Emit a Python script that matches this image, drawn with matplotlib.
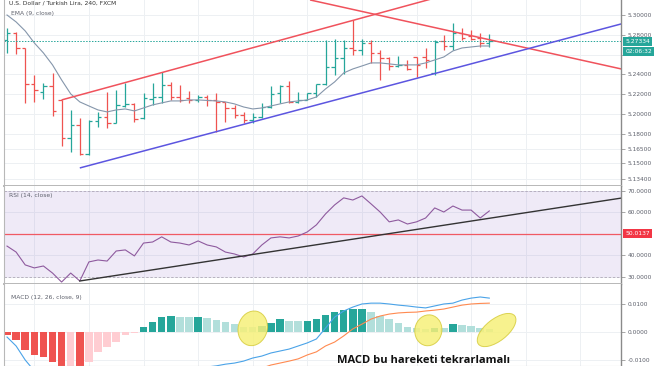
import numpy as np
import matplotlib
matplotlib.use("Agg")
import matplotlib.pyplot as plt
from matplotlib.patches import Ellipse
from matplotlib.transforms import ScaledTranslation

# ---- OHLC (USD/TRY, 4h) ----
opens = [5.2748, 5.2819, 5.2667, 5.2304, 5.2223, 5.2283, 5.2142, 5.1758, 5.1889, 5.1597,
         5.1930, 5.1970, 5.1910, 5.2081, 5.2102, 5.1960, 5.2152, 5.2172, 5.2294, 5.2172,
         5.2162, 5.2142, 5.2172, 5.2142, 5.2122, 5.2061, 5.1990, 5.1940, 5.1970, 5.2071,
         5.2213, 5.2283, 5.2122, 5.2142, 5.2213, 5.2304, 5.2475, 5.2566, 5.2667, 5.2647,
         5.2718, 5.2617, 5.2566, 5.2485, 5.2496, 5.2576, 5.2576, 5.2415, 5.2738, 5.2687,
         5.2819, 5.2788, 5.2768, 5.2718]
highs = [5.2869, 5.2829, 5.2667, 5.2395, 5.2314, 5.2415, 5.2142, 5.2041, 5.1960, 5.1940,
         5.2021, 5.2223, 5.2243, 5.2314, 5.2112, 5.2213, 5.2314, 5.2425, 5.2324, 5.2294,
         5.2233, 5.2193, 5.2193, 5.2213, 5.2122, 5.2092, 5.2021, 5.2011, 5.2112, 5.2283,
         5.2294, 5.2334, 5.2223, 5.2213, 5.2304, 5.2748, 5.2758, 5.2748, 5.2950, 5.2758,
         5.2748, 5.2647, 5.2576, 5.2586, 5.2546, 5.2576, 5.2667, 5.2748, 5.2798, 5.2920,
         5.2869, 5.2849, 5.2819, 5.2809]
lows = [5.2617, 5.2607, 5.2112, 5.2122, 5.2152, 5.1980, 5.1677, 5.1617, 5.1586, 5.1586,
        5.1869, 5.1859, 5.1910, 5.2071, 5.1920, 5.1950, 5.2092, 5.2112, 5.2142, 5.2122,
        5.2112, 5.2122, 5.2081, 5.1819, 5.1920, 5.1960, 5.1910, 5.1910, 5.1960, 5.2061,
        5.2112, 5.2112, 5.2112, 5.2142, 5.2172, 5.2294, 5.2395, 5.2405, 5.2597, 5.2597,
        5.2516, 5.2344, 5.2445, 5.2475, 5.2445, 5.2374, 5.2465, 5.2395, 5.2647, 5.2647,
        5.2748, 5.2748, 5.2677, 5.2677]
closes = [5.2819, 5.2667, 5.2304, 5.2243, 5.2283, 5.2031, 5.1758, 5.1889, 5.1597, 5.1930,
          5.1970, 5.1910, 5.2092, 5.2102, 5.1950, 5.2162, 5.2172, 5.2294, 5.2172, 5.2142,
          5.2142, 5.2172, 5.2142, 5.2122, 5.2061, 5.1990, 5.1940, 5.1970, 5.2071, 5.2203,
          5.2283, 5.2122, 5.2142, 5.2213, 5.2304, 5.2475, 5.2566, 5.2667, 5.2647, 5.2718,
          5.2617, 5.2566, 5.2485, 5.2496, 5.2455, 5.2496, 5.2546, 5.2728, 5.2687, 5.2819,
          5.2768, 5.2758, 5.2718, 5.27334]
ema9 = [5.3000, 5.2930, 5.2839, 5.2718, 5.2617, 5.2496, 5.2344, 5.2203, 5.2122, 5.2081,
        5.2041, 5.2021, 5.2041, 5.2051, 5.2031, 5.2061, 5.2092, 5.2112, 5.2132, 5.2132,
        5.2142, 5.2142, 5.2137, 5.2132, 5.2122, 5.2102, 5.2071, 5.2051, 5.2061, 5.2081,
        5.2102, 5.2122, 5.2132, 5.2142, 5.2172, 5.2253, 5.2324, 5.2415, 5.2455, 5.2485,
        5.2516, 5.2516, 5.2506, 5.2496, 5.2496, 5.2496, 5.2516, 5.2546, 5.2576, 5.2637,
        5.2667, 5.2677, 5.2687, 5.2687]
last_price = 5.27334
countdown = "02:06:32"

# ---- RSI(14) ----
rsi = [44.3, 41.5, 35.5, 34.1, 35.0, 31.7, 27.5, 31.7, 28.0, 36.9,
       37.8, 37.3, 42.0, 42.5, 39.7, 45.7, 46.2, 48.6, 46.2, 45.7,
       44.8, 46.7, 44.8, 43.9, 41.5, 40.6, 39.2, 40.6, 44.8, 48.1,
       48.6, 48.1, 49.0, 50.9, 54.2, 59.3, 63.5, 66.8, 65.8, 67.7,
       64.0, 60.2, 55.6, 56.5, 54.6, 55.6, 57.4, 62.1, 60.2, 63.0,
       61.1, 61.1, 57.4, 60.7]
rsi_last = "50.0137"

# ---- MACD(12, 26, 9) ----
hist = [-0.0012, -0.0030, -0.0065, -0.0083, -0.0089, -0.0107, -0.0135, -0.0128, -0.0140, -0.0107,
        -0.0071, -0.0054, -0.0036, -0.0012, -0.0004, 0.0018, 0.0036, 0.0051, 0.0056, 0.0054,
        0.0052, 0.0054, 0.0048, 0.0042, 0.0036, 0.0027, 0.0018, 0.0017, 0.0020, 0.0030,
        0.0044, 0.0039, 0.0038, 0.0040, 0.0044, 0.0060, 0.0069, 0.0077, 0.0080, 0.0081,
        0.0069, 0.0057, 0.0045, 0.0032, 0.0018, 0.0012, 0.0008, 0.0014, 0.0012, 0.0026,
        0.0024, 0.0020, 0.0012, 0.0008]
macd = [-0.0019, -0.0051, -0.0101, -0.0140, -0.0170, -0.0200, -0.0240, -0.0260, -0.0285, -0.0280,
        -0.0270, -0.0260, -0.0245, -0.0230, -0.0220, -0.0200, -0.0185, -0.0170, -0.0160, -0.0150,
        -0.0140, -0.0132, -0.0126, -0.0122, -0.0116, -0.0112, -0.0105, -0.0094, -0.0087, -0.0076,
        -0.0069, -0.0062, -0.0051, -0.0040, -0.0026, 0.0013, 0.0052, 0.0074, 0.0088, 0.0099,
        0.0102, 0.0102, 0.0099, 0.0095, 0.0092, 0.0088, 0.0085, 0.0092, 0.0099, 0.0102,
        0.0113, 0.0120, 0.0124, 0.0120]
signal = [-0.0150, -0.0155, -0.0160, -0.0165, -0.0170, -0.0180, -0.0190, -0.0200, -0.0210, -0.0220,
          -0.0225, -0.0230, -0.0232, -0.0232, -0.0230, -0.0225, -0.0220, -0.0215, -0.0210, -0.0205,
          -0.0200, -0.0193, -0.0185, -0.0176, -0.0166, -0.0156, -0.0146, -0.0138, -0.0130, -0.0119,
          -0.0112, -0.0105, -0.0097, -0.0083, -0.0072, -0.0051, -0.0037, -0.0015, 0.0010, 0.0027,
          0.0045, 0.0056, 0.0063, 0.0067, 0.0069, 0.0070, 0.0074, 0.0077, 0.0081, 0.0088,
          0.0095, 0.0099, 0.0101, 0.0102]

# ---- drawn trend lines: (bar index, value) anchors ----
red_up = [(6.0, 5.2142), (67.5, 5.3686)]
red_down = [(33.3, 5.3152), (67.5, 5.2455)]
blue_up = [(8.0, 5.1455), (67.5, 5.2910)]
rsi_line = [(8.0, 28.0), (67.5, 66.7)]
# yellow highlight ellipses in MACD pane: centre (bar index, value)
circles = [(27.0, 0.0012), (46.3, 0.0005), (53.8, 0.0006)]

price_ticks = [5.30, 5.28, 5.26, 5.24, 5.22, 5.20, 5.18, 5.165, 5.15, 5.134]
rsi_ticks = [70, 60, 40, 30]
macd_ticks = [0.01, 0.0, -0.01]

UP = "#26a69a"
DN = "#ef5350"
GRID = "#edf0f3"
SPINE = "#b8b8b8"
TXT = "#5d606b"

W, H = 654, 366
fig = plt.figure(figsize=(W / 100, H / 100), dpi=100)
x0, x1 = 4 / W, 621 / W


def pane(top, bottom):
    return fig.add_axes([x0, 1 - bottom / H, x1 - x0, (bottom - top) / H])


ax1 = pane(0, 186)
ax2 = pane(186, 284)
ax3 = pane(284, 366)

n = len(closes)
idx = np.arange(n)
xlim = (-0.33, 67.47)
vgrid = np.arange(3, 67, 6)

for ax in (ax1, ax2, ax3):
    ax.set_xlim(*xlim)
    ax.set_xticks(vgrid)
    ax.tick_params(axis="x", length=0, labelbottom=False)
    ax.yaxis.tick_right()
    ax.tick_params(axis="y", direction="out", length=3, width=0.6, color="#999999",
                   labelsize=4.2, labelcolor=TXT, pad=2)
    ax.grid(True, color=GRID, lw=0.7)
    ax.set_axisbelow(True)
    for s in ax.spines.values():
        s.set_color(SPINE)
        s.set_linewidth(0.8)
    ax.spines["top"].set_visible(False)
    ax.spines["right"].set_linewidth(1.0)
    ax.spines["right"].set_color("#8a8a8a")
ax1.spines["bottom"].set_linewidth(1.4)
ax2.spines["bottom"].set_linewidth(1.4)

# ---- price pane ----
ax1.set_ylim(5.12727, 5.31515)
ax1.set_yticks(price_ticks)
# 5.26 sits under the last-price / countdown boxes
ax1.set_yticklabels(["" if t == 5.26 else f"{t:.5f}" for t in price_ticks])
for i in range(n):
    c = UP if closes[i] >= opens[i] else DN
    ax1.vlines(i, lows[i], highs[i], color=c, lw=0.9)
    ax1.hlines(opens[i], i - 0.38, i, color=c, lw=0.9)
    ax1.hlines(closes[i], i, i + 0.38, color=c, lw=0.9)
ax1.plot(idx, ema9, color="#8596ab", lw=0.8)
ax1.axhline(last_price, color=UP, lw=0.7, ls=(0, (1.5, 1.5)))
for line, col in ((red_up, "#f0525c"), (red_down, "#f0525c"), (blue_up, "#5c55e0")):
    xs, ys = zip(*line)
    ax1.plot(xs, ys, color=col, lw=1.1, solid_capstyle="butt")
ax1.text(0.008, 0.999, "U.S. Dollar / Turkish Lira, 240, FXCM", transform=ax1.transAxes,
         fontsize=4.3, color="#333333", va="top", ha="left")
ax1.text(0.012, 0.925, "EMA (9, close)", transform=ax1.transAxes,
         fontsize=4.3, color=TXT, va="center", ha="left")
box = dict(boxstyle="square,pad=0.35", lw=0)
ax1.annotate(f"{last_price:.5f}", xy=(1.0, last_price), xycoords=("axes fraction", "data"),
             xytext=(3, 0), textcoords="offset points", fontsize=4.3, color="white",
             va="center", ha="left", bbox=dict(box, fc=UP))
ax1.annotate(countdown, xy=(1.0, last_price), xycoords=("axes fraction", "data"),
             xytext=(3, -7.5), textcoords="offset points", fontsize=4.3, color="white",
             va="center", ha="left", bbox=dict(box, fc=UP))

# ---- RSI pane ----
ax2.set_ylim(26.59, 72.34)
ax2.set_yticks(rsi_ticks)
ax2.set_yticklabels([f"{t:.4f}" for t in rsi_ticks])
ax2.axhspan(30, 70, color="#9575cd", alpha=0.15, lw=0)
ax2.axhline(70, color="#b0a8b8", lw=0.6, ls=(0, (3, 2)))
ax2.axhline(30, color="#b0a8b8", lw=0.6, ls=(0, (3, 2)))
ax2.axhline(50, color="#f05a64", lw=0.9)
ax2.plot(idx, rsi, color="#8e5a9e", lw=0.8)
xs, ys = zip(*rsi_line)
ax2.plot(xs, ys, color="#333333", lw=1.0)
ax2.text(0.008, 0.9, "RSI (14, close)", transform=ax2.transAxes,
         fontsize=4.3, color=TXT, va="center", ha="left")
ax2.annotate(rsi_last, xy=(1.0, 50), xycoords=("axes fraction", "data"),
             xytext=(3, 0), textcoords="offset points", fontsize=4.3, color="white",
             va="center", ha="left", bbox=dict(box, fc="#f23645"))

# ---- MACD pane ----
ax3.set_ylim(-0.01225, 0.01704)
ax3.set_yticks(macd_ticks)
ax3.set_yticklabels([f"{t:.4f}" for t in macd_ticks])
cols = []
for i, h in enumerate(hist):
    prev = hist[i - 1] if i else h
    if h >= 0:
        cols.append("#26a69a" if h > prev else "#b2dfdb")
    else:
        cols.append("#ffcdd2" if h > prev else "#ef5350")
ax3.bar(idx, hist, width=0.82, color=cols, lw=0)
ax3.plot(idx, macd, color="#4aa3e8", lw=0.8)
ax3.plot(idx, signal, color="#ff8a50", lw=0.8)
# ellipse sizes in inches, centres in data coordinates
ell_shape = [(0.29, 0.35, -15), (0.27, 0.31, -10), (0.46, 0.22, 38)]
for (cx, cy), (w, h, ang) in zip(circles, ell_shape):
    tr = fig.dpi_scale_trans + ScaledTranslation(cx, cy, ax3.transData)
    ax3.add_patch(Ellipse((0, 0), width=w, height=h, angle=ang, transform=tr,
                          fc="#f6f07a", ec="#d6cc3c", lw=0.7, alpha=0.85, zorder=3))
ax3.text(0.012, 0.84, "MACD (12, 26, close, 9)", transform=ax3.transAxes,
         fontsize=4.3, color=TXT, va="center", ha="left")
ax3.text(0.68, 0.07, "MACD bu hareketi tekrarlamalı", transform=ax3.transAxes,
         fontsize=8, fontweight="bold", family="Open Sans", color="#111111",
         va="center", ha="center", zorder=5)

fig.savefig("out.png", dpi=100)
